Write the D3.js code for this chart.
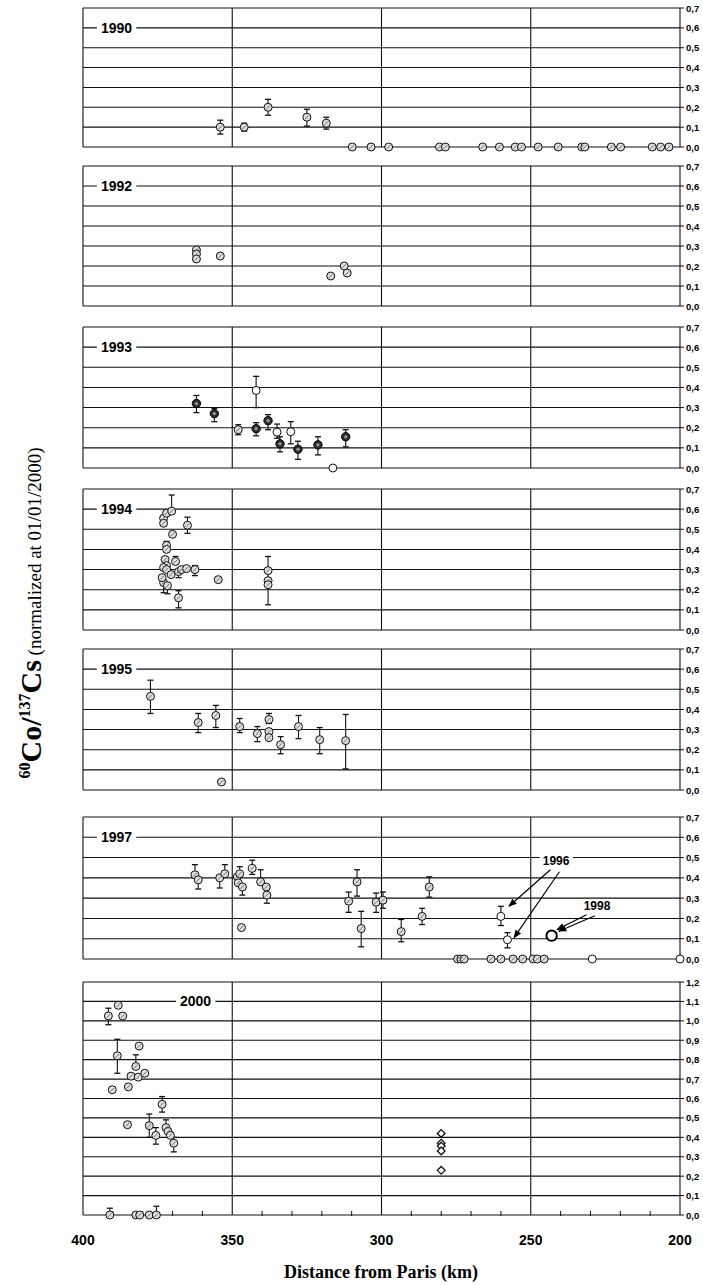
<!DOCTYPE html>
<html><head><meta charset="utf-8">
<script src="https://cdn.jsdelivr.net/npm/d3@7"></script>
<style>body{margin:0;background:#fff;} svg{display:block;}</style>
</head><body>
<svg id="chart" width="703" height="1285"></svg>
<script>
// ---------- DATA ----------
const distTicks = [400, 350, 300, 250, 200];
const distTickLabels = ["400", "350", "300", "250", "200"];
const ratioTicks07 = [0, 0.1, 0.2, 0.3, 0.4, 0.5, 0.6, 0.7];
const ratioTickLabels07 = ["0,0", "0,1", "0,2", "0,3", "0,4", "0,5", "0,6", "0,7"];
const ratioTicks12 = [0, 0.1, 0.2, 0.3, 0.4, 0.5, 0.6, 0.7, 0.8, 0.9, 1.0, 1.1, 1.2];
const ratioTickLabels12 = ["0,0", "0,1", "0,2", "0,3", "0,4", "0,5", "0,6", "0,7", "0,8", "0,9", "1,0", "1,1", "1,2"];
const panelYears = ["1990", "1992", "1993", "1994", "1995", "1997", "2000"];

// [distance from Paris (km), 60Co/137Cs ratio, error below, error above]
const pts1990 = [
  [354, 0.10, 0.035, 0.035], [346, 0.10, 0.02, 0.02], [338, 0.20, 0.04, 0.04],
  [325, 0.15, 0.045, 0.04], [318.5, 0.12, 0.03, 0.03],
  [309.8, 0, 0, 0], [303.5, 0, 0, 0], [297.6, 0, 0, 0], [280.6, 0, 0, 0], [278.6, 0, 0, 0],
  [266.1, 0, 0, 0], [260.5, 0, 0, 0], [255.2, 0, 0, 0], [253.1, 0, 0, 0], [247.5, 0, 0, 0],
  [240.8, 0, 0, 0], [232.9, 0, 0, 0], [231.9, 0, 0, 0], [223, 0, 0, 0], [219.9, 0, 0, 0],
  [209.3, 0, 0, 0], [206.5, 0, 0, 0], [203.7, 0, 0, 0]
];
const pts1992 = [
  [362, 0.28, 0, 0], [362, 0.26, 0, 0], [362, 0.235, 0, 0], [354, 0.25, 0, 0],
  [317, 0.15, 0, 0], [312.5, 0.20, 0, 0], [311.5, 0.165, 0, 0]
];
const pts1993Filled = [
  [362, 0.32, 0.045, 0.04], [356, 0.27, 0.04, 0.025], [342, 0.195, 0.035, 0.03],
  [338, 0.235, 0.045, 0.03], [334, 0.12, 0.04, 0.035], [328, 0.093, 0.05, 0.04],
  [321.3, 0.115, 0.05, 0.04], [312, 0.155, 0.05, 0.035]
];
const pts1993Hatched = [[348, 0.19, 0.025, 0.025]];
const pts1993Open = [
  [342, 0.385, 0.085, 0.07], [335, 0.178, 0.03, 0.04], [330.4, 0.18, 0.06, 0.05], [316.3, 0, 0, 0]
];
const pts1994 = [
  [373, 0.555, 0, 0], [372, 0.58, 0, 0], [370.3, 0.59, 0, 0.08], [373, 0.53, 0, 0],
  [365, 0.52, 0.04, 0.04], [370, 0.475, 0, 0], [372, 0.42, 0, 0.02], [372, 0.40, 0, 0],
  [372.5, 0.35, 0, 0], [369, 0.34, 0, 0.025], [372, 0.32, 0, 0], [373, 0.31, 0, 0],
  [372, 0.30, 0, 0], [370.5, 0.275, 0, 0], [368, 0.29, 0.03, 0], [367, 0.30, 0, 0],
  [365.3, 0.305, 0, 0], [362.5, 0.30, 0.03, 0.02], [373, 0.235, 0.05, 0],
  [371.7, 0.22, 0.04, 0], [373.5, 0.26, 0, 0], [368, 0.16, 0.05, 0.035],
  [354.7, 0.25, 0, 0], [338, 0.295, 0.05, 0.07], [338, 0.245, 0, 0], [338, 0.225, 0.1, 0]
];
const pts1995 = [
  [377.4, 0.465, 0.085, 0.08], [361.4, 0.335, 0.05, 0.045], [355.5, 0.37, 0.06, 0.05],
  [353.6, 0.04, 0, 0], [347.5, 0.315, 0.03, 0.04], [341.6, 0.28, 0.04, 0.035],
  [337.7, 0.35, 0.02, 0.03], [337.7, 0.29, 0, 0], [337.7, 0.26, 0, 0],
  [333.8, 0.225, 0.045, 0.04], [327.8, 0.315, 0.06, 0.055], [320.7, 0.25, 0.07, 0.06],
  [312, 0.245, 0.14, 0.13]
];
const pts1997 = [
  [362.5, 0.415, 0, 0.05], [361.4, 0.39, 0.045, 0], [354.2, 0.40, 0.05, 0],
  [352.5, 0.42, 0, 0.045], [348.3, 0.405, 0, 0], [347.5, 0.42, 0, 0.035],
  [348, 0.375, 0, 0], [346.6, 0.355, 0.04, 0], [346.9, 0.155, 0, 0],
  [343.3, 0.447, 0.03, 0.04], [340.5, 0.38, 0, 0.06], [338.6, 0.355, 0, 0],
  [338.4, 0.315, 0.04, 0], [311, 0.285, 0.055, 0.045], [308.2, 0.38, 0.07, 0.06],
  [306.8, 0.15, 0.09, 0.085], [301.8, 0.28, 0.05, 0.045], [299.5, 0.29, 0.04, 0.04],
  [293.4, 0.135, 0.05, 0.06], [286.4, 0.21, 0.04, 0.04], [284, 0.355, 0.05, 0.05],
  [274.5, 0, 0, 0], [273.4, 0, 0, 0], [272.3, 0, 0, 0], [263.3, 0, 0, 0], [260, 0, 0, 0],
  [255.9, 0, 0, 0], [252.7, 0, 0, 0], [249.2, 0, 0, 0], [247.8, 0, 0, 0], [245.5, 0, 0, 0]
];
const pts1997Open = [[229.4, 0, 0, 0], [200, 0, 0, 0]];
const pts1996 = [[260, 0.21, 0.045, 0.05], [257.8, 0.095, 0.04, 0.035]];
const pts1998 = [[243, 0.115, 0, 0]];
const pts2000 = [
  [388.2, 1.08, 0, 0], [391.5, 1.025, 0.045, 0.04], [386.7, 1.025, 0, 0], [381.2, 0.87, 0, 0],
  [388.5, 0.82, 0.09, 0.085], [382.3, 0.765, 0, 0.06], [383.9, 0.715, 0, 0], [381.5, 0.71, 0, 0],
  [379.3, 0.73, 0, 0], [390.2, 0.645, 0, 0], [384.8, 0.66, 0, 0], [373.5, 0.57, 0.04, 0.04],
  [385.1, 0.465, 0, 0], [377.8, 0.46, 0.06, 0.06], [375.6, 0.41, 0.045, 0.04],
  [372.2, 0.45, 0, 0.04], [371.5, 0.43, 0, 0], [370.7, 0.41, 0, 0], [369.6, 0.37, 0.045, 0.03],
  [391, 0, 0, 0.035], [382.3, 0, 0, 0], [381, 0, 0, 0], [377.8, 0, 0, 0], [375.4, 0, 0, 0.045]
];
const diamonds2000 = [[280, 0.42], [280, 0.37], [280, 0.355], [280, 0.33], [280, 0.23]];

// annotation arrows in data units: [fromKm, fromRatio, toKm, toRatio]
const arrows1996 = [[243.4, 0.44, 257.3, 0.26], [240.4, 0.43, 255.6, 0.105]];
const arrows1998 = [[231.3, 0.218, 241.2, 0.145], [228.5, 0.213, 240.6, 0.137]];

// ---------- LAYOUT ----------
const svg = d3.select("#chart");
const x = d3.scaleLinear().domain([400, 200]).range([83, 680]);
const panelTop = [8, 166, 327, 489, 649, 817, 982];
const panelBottom = [147, 306, 468, 630, 790, 959, 1215];
const FONT = "'Liberation Sans', Arial, sans-serif";
const SERIF = "'Liberation Serif', 'Times New Roman', serif";

svg.append("defs").append("marker")
  .attr("id", "ah").attr("viewBox", "0 0 10 10").attr("refX", 9).attr("refY", 5)
  .attr("markerWidth", 7).attr("markerHeight", 7).attr("orient", "auto")
  .append("path").attr("d", "M0,1 L10,5 L0,9 Z").attr("fill", "#000");

const styles = {
  hatch:  {r: 4, fill: "#dcdcdc", stroke: "#111", sw: 1},
  filled: {r: 4.2, fill: "#2e2e2e", stroke: "#000", sw: 1},
  open:   {r: 4, fill: "#fff", stroke: "#111", sw: 1},
  big:    {r: 5.2, fill: "#fff", stroke: "#000", sw: 2}
};

const panelSeries = [
  [{pts: pts1990, st: "hatch"}],
  [{pts: pts1992, st: "hatch"}],
  [{pts: pts1993Hatched, st: "hatch"}, {pts: pts1993Open, st: "open"}, {pts: pts1993Filled, st: "filled"}],
  [{pts: pts1994, st: "hatch"}],
  [{pts: pts1995, st: "hatch"}],
  [{pts: pts1997, st: "hatch"}, {pts: pts1997Open, st: "open"}, {pts: pts1996, st: "open"}, {pts: pts1998, st: "big"}],
  [{pts: pts2000, st: "hatch"}]
];

panelYears.forEach((yr, i) => {
  const big = i === 6;
  const ticks = big ? ratioTicks12 : ratioTicks07;
  const labels = big ? ratioTickLabels12 : ratioTickLabels07;
  const y = d3.scaleLinear().domain([0, big ? 1.2 : 0.7]).range([panelBottom[i], panelTop[i]]);
  const g = svg.append("g");

  g.selectAll(".h").data(ticks).join("line")
    .attr("x1", x(400)).attr("x2", x(200))
    .attr("y1", d => y(d)).attr("y2", d => y(d))
    .attr("stroke", "#111").attr("stroke-width", 1.1);
  g.selectAll(".v").data(distTicks).join("line")
    .attr("x1", d => x(d)).attr("x2", d => x(d))
    .attr("y1", y.range()[0]).attr("y2", y.range()[1])
    .attr("stroke", "#111").attr("stroke-width", 1.1);
  g.selectAll(".t").data(ticks).join("line")
    .attr("x1", x(200)).attr("x2", x(200) + 4)
    .attr("y1", d => y(d)).attr("y2", d => y(d))
    .attr("stroke", "#111");
  g.selectAll(".tl").data(ticks).join("text")
    .attr("x", x(200) + 6).attr("y", d => y(d))
    .attr("dominant-baseline", "central")
    .attr("font-family", FONT).attr("font-weight", "bold").attr("font-size", 9.5)
    .text((d, k) => labels[k]);

  const lv = big ? 1.1 : 0.6;
  const lx = big ? x(367.5) : x(394);
  const t = g.append("text").attr("x", lx).attr("y", y(lv))
    .attr("dominant-baseline", "central")
    .attr("font-family", FONT).attr("font-weight", "bold").attr("font-size", 14)
    .text(yr);
  const bb = t.node().getBBox();
  g.insert("rect", "text").attr("x", bb.x - 4).attr("y", bb.y).attr("width", bb.width + 8)
    .attr("height", bb.height).attr("fill", "#fff");

  if (big) {
    g.selectAll(".mt").data(d3.range(390, 200, -10).filter(v => v % 50 !== 0)).join("line")
      .attr("x1", d => x(d)).attr("x2", d => x(d))
      .attr("y1", y(0) + 1).attr("y2", y(0) - 4).attr("stroke", "#111");
  }

  panelSeries[i].forEach(s => {
    const st = styles[s.st];
    const eb = g.append("g");
    s.pts.filter(p => p[2] > 0 || p[3] > 0).forEach(p => {
      const cx = x(p[0]);
      const y1 = y(p[1] - p[2]), y2 = y(p[1] + p[3]);
      eb.append("line").attr("x1", cx).attr("x2", cx).attr("y1", y1).attr("y2", y2)
        .attr("stroke", "#111").attr("stroke-width", 1.1);
      [[p[2], y1], [p[3], y2]].forEach(([e, yy]) => {
        if (e > 0) eb.append("line").attr("x1", cx - 3).attr("x2", cx + 3)
          .attr("y1", yy).attr("y2", yy).attr("stroke", "#111").attr("stroke-width", 1.3);
      });
    });
    g.append("g").selectAll("circle").data(s.pts).join("circle")
      .attr("cx", d => x(d[0])).attr("cy", d => y(d[1])).attr("r", st.r)
      .attr("fill", st.fill).attr("stroke", st.stroke).attr("stroke-width", st.sw);
    if (s.st === "hatch") {
      g.append("g").selectAll("line").data(s.pts).join("line")
        .attr("x1", d => x(d[0]) - 1.8).attr("x2", d => x(d[0]) + 1.8)
        .attr("y1", d => y(d[1]) + 1.8).attr("y2", d => y(d[1]) - 1.8)
        .attr("stroke", "#666").attr("stroke-width", 0.9);
    }
    if (s.st === "filled") {
      g.append("g").selectAll("circle").data(s.pts).join("circle")
        .attr("cx", d => x(d[0])).attr("cy", d => y(d[1])).attr("r", 1.6)
        .attr("fill", "#9a9a9a");
    }
  });

  if (big) {
    g.append("g").selectAll("path").data(diamonds2000).join("path")
      .attr("transform", d => `translate(${x(d[0])},${y(d[1])})`)
      .attr("d", d3.symbol().type(d3.symbolDiamond2).size(38))
      .attr("fill", "#fff").attr("stroke", "#111").attr("stroke-width", 1.3);
  }

  if (i === 5) {
    const addLabel = (txt, km, v) => {
      const tt = g.append("text").attr("x", x(km)).attr("y", y(v))
        .attr("text-anchor", "middle").attr("dominant-baseline", "central")
        .attr("font-family", FONT).attr("font-weight", "bold").attr("font-size", 12).text(txt);
      const b = tt.node().getBBox();
      g.insert("rect", "text").attr("x", b.x - 3).attr("y", b.y).attr("width", b.width + 6)
        .attr("height", b.height).attr("fill", "#fff");
    };
    addLabel("1996", 241.5, 0.485);
    addLabel("1998", 227.8, 0.26);
    arrows1996.concat(arrows1998).forEach(a => {
      g.append("line").attr("x1", x(a[0])).attr("y1", y(a[1])).attr("x2", x(a[2])).attr("y2", y(a[3]))
        .attr("stroke", "#000").attr("stroke-width", 1.2).attr("marker-end", "url(#ah)");
    });
  }
});

svg.append("g").selectAll("text").data(distTicks).join("text")
  .attr("x", d => x(d)).attr("y", 1240).attr("text-anchor", "middle")
  .attr("dominant-baseline", "central")
  .attr("font-family", FONT).attr("font-weight", "bold").attr("font-size", 14)
  .text((d, k) => distTickLabels[k]);

svg.append("text").attr("x", 381).attr("y", 1272).attr("text-anchor", "middle")
  .attr("dominant-baseline", "central")
  .attr("font-family", SERIF).attr("font-weight", "bold").attr("font-size", 18)
  .text("Distance from Paris (km)");

const yt = svg.append("text").attr("transform", "translate(41,613) rotate(-90)")
  .attr("text-anchor", "middle").attr("font-family", SERIF);
yt.append("tspan").attr("font-size", 16).attr("font-weight", "bold").attr("dy", -11).text("60");
yt.append("tspan").attr("font-size", 30).attr("font-weight", "bold").attr("dy", 11).text("Co/");
yt.append("tspan").attr("font-size", 16).attr("font-weight", "bold").attr("dy", -11).text("137");
yt.append("tspan").attr("font-size", 30).attr("font-weight", "bold").attr("dy", 11).text("Cs");
yt.append("tspan").attr("font-size", 19).text(" (normalized at 01/01/2000)");
</script>
</body></html>
